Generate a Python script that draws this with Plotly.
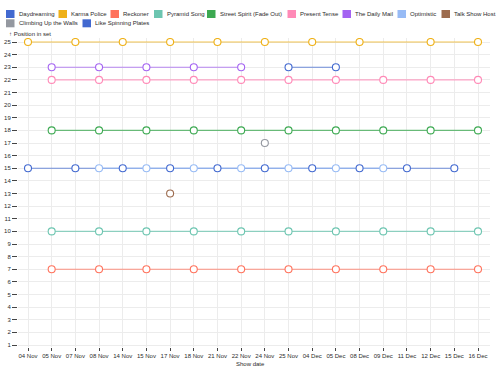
import plotly.graph_objects as go

# ---- data ----
show_dates = ["04 Nov", "05 Nov", "07 Nov", "08 Nov", "14 Nov", "15 Nov", "17 Nov",
              "18 Nov", "21 Nov", "22 Nov", "24 Nov", "25 Nov", "04 Dec", "05 Dec",
              "08 Dec", "09 Dec", "11 Dec", "12 Dec", "15 Dec", "16 Dec"]

song_names = ["Daydreaming", "Karma Police", "Reckoner", "Pyramid Song",
              "Street Spirit (Fade Out)", "Present Tense", "The Daily Mail",
              "Optimistic", "Talk Show Host", "Climbing Up the Walls",
              "Like Spinning Plates"]

song_colors = ["#4269d0", "#efb118", "#ff725c", "#6cc5b0", "#3ca951", "#ff8ab7",
               "#a463f2", "#97bbf5", "#9c6b4e", "#9498a0", "#4269d0"]

daydreaming_dates = ["04 Nov", "07 Nov", "14 Nov", "17 Nov", "21 Nov", "24 Nov",
                     "04 Dec", "08 Dec", "11 Dec", "15 Dec"]
daydreaming_pos = [15, 15, 15, 15, 15, 15, 15, 15, 15, 15]

karma_police_dates = ["04 Nov", "07 Nov", "14 Nov", "17 Nov", "21 Nov", "24 Nov",
                      "04 Dec", "08 Dec", "12 Dec", "16 Dec"]
karma_police_pos = [25, 25, 25, 25, 25, 25, 25, 25, 25, 25]

reckoner_dates = ["05 Nov", "08 Nov", "15 Nov", "18 Nov", "22 Nov", "25 Nov",
                  "05 Dec", "09 Dec", "12 Dec", "16 Dec"]
reckoner_pos = [7, 7, 7, 7, 7, 7, 7, 7, 7, 7]

pyramid_song_dates = ["05 Nov", "08 Nov", "15 Nov", "18 Nov", "22 Nov", "25 Nov",
                      "05 Dec", "09 Dec", "12 Dec", "16 Dec"]
pyramid_song_pos = [10, 10, 10, 10, 10, 10, 10, 10, 10, 10]

street_spirit_dates = ["05 Nov", "08 Nov", "15 Nov", "18 Nov", "22 Nov", "25 Nov",
                       "05 Dec", "09 Dec", "12 Dec", "16 Dec"]
street_spirit_pos = [18, 18, 18, 18, 18, 18, 18, 18, 18, 18]

present_tense_dates = ["05 Nov", "08 Nov", "15 Nov", "18 Nov", "22 Nov", "25 Nov",
                       "05 Dec", "09 Dec", "12 Dec", "16 Dec"]
present_tense_pos = [22, 22, 22, 22, 22, 22, 22, 22, 22, 22]

daily_mail_dates = ["05 Nov", "08 Nov", "15 Nov", "18 Nov", "22 Nov"]
daily_mail_pos = [23, 23, 23, 23, 23]

optimistic_dates = ["08 Nov", "15 Nov", "18 Nov", "22 Nov", "25 Nov", "05 Dec", "09 Dec"]
optimistic_pos = [15, 15, 15, 15, 15, 15, 15]

talk_show_host_dates = ["17 Nov"]
talk_show_host_pos = [13]

climbing_dates = ["24 Nov"]
climbing_pos = [17]

spinning_plates_dates = ["25 Nov", "05 Dec"]
spinning_plates_pos = [23, 23]

series_dates = [daydreaming_dates, karma_police_dates, reckoner_dates, pyramid_song_dates,
                street_spirit_dates, present_tense_dates, daily_mail_dates,
                optimistic_dates, talk_show_host_dates, climbing_dates,
                spinning_plates_dates]
series_pos = [daydreaming_pos, karma_police_pos, reckoner_pos, pyramid_song_pos,
              street_spirit_pos, present_tense_pos, daily_mail_pos, optimistic_pos,
              talk_show_host_pos, climbing_pos, spinning_plates_pos]

y_ticks = list(range(1, 26))

# ---- layout constants (pixels) ----
W, H = 500, 369
ML, MR, MT, MB = 18, 10, 38, 22
PW = W - ML - MR
PH = H - MT - MB
FONT = "Liberation Sans, Arial, sans-serif"
TXT = "#2b2b2b"
FS = 6.0


def px_x(p):
    return (p - ML) / PW


def px_y(p):
    return (H - MB - p) / PH


def rgba(hexc, a):
    h = hexc.lstrip("#")
    return "rgba(%d,%d,%d,%.2f)" % (int(h[0:2], 16), int(h[2:4], 16), int(h[4:6], 16), a)


fig = go.Figure()

# lines first
for name, col, xs, ys in zip(song_names, song_colors, series_dates, series_pos):
    fig.add_trace(go.Scatter(x=xs, y=ys, mode="lines", name=name, showlegend=False,
                             line=dict(color=rgba(col, 0.75), width=1.2),
                             hoverinfo="skip"))
# dots after
for name, col, xs, ys in zip(song_names, song_colors, series_dates, series_pos):
    fig.add_trace(go.Scatter(x=xs, y=ys, mode="markers", name=name, showlegend=False,
                             marker=dict(size=7, color="white",
                                         line=dict(color=col, width=1.1))))

# manual legend
legend_px = [(6, 14), (58.5, 14), (110.5, 14), (154, 14), (207, 14), (287.5, 14),
             (342.5, 14), (397.5, 14), (441.5, 14), (6, 23.3), (82.5, 23.3)]
shapes = []
annotations = []
for name, col, (lx, ly) in zip(song_names, song_colors, legend_px):
    shapes.append(dict(type="rect", xref="paper", yref="paper",
                       x0=px_x(lx), x1=px_x(lx + 8.5), y0=px_y(ly + 4), y1=px_y(ly - 4),
                       fillcolor=col, line=dict(width=0), layer="above"))
    annotations.append(dict(x=px_x(lx + 10.5), y=px_y(ly), xref="paper", yref="paper",
                            text=name, showarrow=False, xanchor="left", yanchor="middle",
                            font=dict(size=FS, color=TXT, family=FONT)))

annotations.append(dict(x=px_x(7), y=px_y(33.5), xref="paper", yref="paper",
                        text="↑ Position in set", showarrow=False, xanchor="left",
                        yanchor="middle", font=dict(size=FS, color=TXT, family=FONT)))
annotations.append(dict(x=px_x(250), y=px_y(364), xref="paper", yref="paper",
                        text="Show date", showarrow=False, xanchor="center",
                        yanchor="middle", font=dict(size=FS, color=TXT, family=FONT)))

unit_x = (478 - 28) / 19
x_lo = -(28 - ML) / unit_x
x_hi = 19 + (W - MR - 478) / unit_x
unit_y = (345 - 42) / 24
y_lo = 1 - (H - MB - 345) / unit_y
y_hi = 25 + (42 - MT) / unit_y

fig.update_layout(
    width=W, height=H,
    margin=dict(l=ML, r=MR, t=MT, b=MB, pad=0, autoexpand=False),
    paper_bgcolor="white", plot_bgcolor="white",
    shapes=shapes, annotations=annotations,
    showlegend=False,
    xaxis=dict(type="category", categoryorder="array", categoryarray=show_dates,
               range=[x_lo, x_hi], showgrid=True, gridcolor="#ececec", gridwidth=1,
               zeroline=False, showline=False, ticks="outside", ticklen=3,
               tickcolor="#444444", tickwidth=0.9, automargin=False,
               tickfont=dict(size=FS, color=TXT, family=FONT)),
    yaxis=dict(range=[y_lo, y_hi], tickvals=y_ticks, showgrid=True,
               gridcolor="#ececec", gridwidth=1, zeroline=False, showline=False,
               ticks="outside", ticklen=5, tickcolor="#444444", tickwidth=0.9,
               automargin=False,
               tickfont=dict(size=FS, color=TXT, family=FONT)),
)

fig.write_html("out.html")
